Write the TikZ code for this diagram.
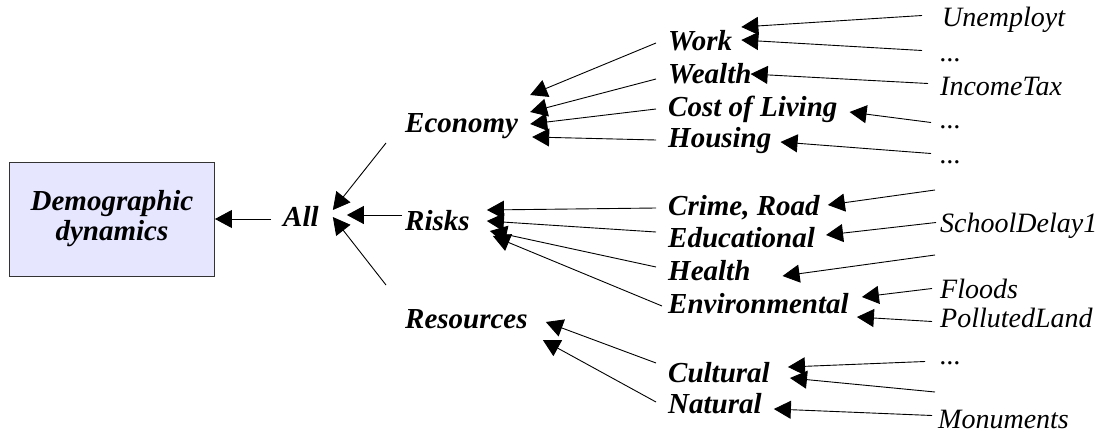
\documentclass[tikz,border=0pt]{standalone}
\usepackage{fontspec}
\setmainfont{Liberation Serif}
\usetikzlibrary{arrows.meta}
\definecolor{boxfill}{RGB}{230,230,255}

\begin{document}
\begin{tikzpicture}[x=1pt, y=-1pt,
	cat/.style={anchor=base west, inner xsep=12pt, inner ysep=0pt, text height=20pt, text depth=6pt,
		font=\fontsize{29}{33}\selectfont\bfseries\itshape},
	leaf/.style={anchor=base west, inner xsep=4pt, inner ysep=0pt, text height=19pt, text depth=6pt,
		font=\fontsize{28}{32}\selectfont\itshape},
	arr/.style={-{Triangle[length=17pt,width=18pt]}, line width=0.9pt}]
			\useasboundingbox (0,0) rectangle (1116,439);
			% root box
			\node[draw=black!80, fill=boxfill, line width=0.9pt, minimum width=205pt, minimum height=114pt,
				align=center, font=\fontsize{29}{30}\selectfont\bfseries\itshape] (box) at (112,219) {Demographic\\dynamics};
			% first levels
			\node[cat] (all) at (271,226) {All};
			\node[cat] (eco) at (393,132) {Economy};
			\node[cat] (risks) at (393,230) {Risks};
			\node[cat] (res) at (393,328) {Resources};
			\node[cat] (work) at (656,50) {Work};
			\node[cat] (wealth) at (656,83) {Wealth};
			\node[cat] (cost) at (656,116) {Cost of Living};
			\node[cat] (housing) at (656,147) {Housing};
			\node[cat] (crime) at (656,215) {Crime, Road};
			\node[cat] (edu) at (656,247) {Educational};
			\node[cat] (health) at (656,280) {Health};
			\node[cat] (env) at (656,313) {Environmental};
			\node[cat] (cult) at (656,382) {Cultural};
			\node[cat] (nat) at (656,413) {Natural};
			% indicators
			\node[leaf] (unemp) at (938,27) {Unemployt};
			\node[leaf] (dotsa) at (936,61) {...};
			\node[leaf] (income) at (936,95) {IncomeTax};
			\node[leaf] (dotsb) at (936,128) {...};
			\node[leaf] (dotsc) at (936,163) {...};
			\node[leaf] (school) at (936,232) {SchoolDelay1};
			\node[leaf] (floods) at (936,298) {Floods};
			\node[leaf] (polluted) at (936,327) {PollutedLand};
			\node[leaf] (dotsd) at (936,364) {...};
			\node[leaf] (monu) at (934,428) {Monuments};
			\coordinate (crimeend) at (935,190);
			\coordinate (healthend) at (935,255);
			\coordinate (cultend) at (935,392);
			% root
			\draw[arr] (all.west) -- (box.east);
			\draw[arr] ([xshift=-7pt,yshift=-18pt]eco.west) -- ([xshift=2pt,yshift=9pt]all.east);
			\draw[arr] ([xshift=9pt,yshift=8pt]risks.west) -- ([xshift=16pt,yshift=4pt]all.east);
			\draw[arr] ([xshift=-7pt,yshift=36pt]res.west) -- ([xshift=2pt,yshift=2pt]all.east);
			% economy
			\draw[arr] (work.west) -- ([yshift=30pt]eco.east);
			\draw[arr] ([yshift=-3pt]wealth.west) -- ([yshift=13pt]eco.east);
			\draw[arr] (cost.west) -- ([yshift=1pt]eco.east);
			\draw[arr] (housing.west) -- ([xshift=2pt,yshift=-12pt]eco.east);
			% risks
			\draw[arr] (crime.west) -- ([xshift=5pt,yshift=13pt]risks.east);
			\draw[arr] ([yshift=8pt]edu.west) -- ([xshift=5pt,yshift=2pt]risks.east);
			\draw[arr] ([yshift=6pt]health.west) -- ([xshift=8pt,yshift=-8pt]risks.east);
			\draw[arr] ([xshift=6pt]env.west) -- ([xshift=11pt,yshift=-13pt]risks.east);
			% resources
			\draw[arr] ([yshift=12pt]cult.west) -- ([xshift=6pt,yshift=-1pt]res.east);
			\draw[arr] ([yshift=4pt]nat.west) -- ([xshift=3pt,yshift=-19pt]res.east);
			% indicators
			\draw[arr] ([xshift=-16pt,yshift=5pt]unemp.west) -- ([xshift=-3pt,yshift=16pt]work.east);
			\draw[arr] ([xshift=-14pt,yshift=4pt]dotsa.west) -- ([xshift=-3pt,yshift=3pt]work.east);
			\draw[arr] ([xshift=-8pt,yshift=5pt]income.west) -- ([xshift=-13pt,yshift=2pt]wealth.east);
			\draw[arr] ([xshift=-5pt,yshift=-1pt]dotsb.west) -- ([yshift=-3pt]cost.east);
			\draw[arr] ([xshift=-5pt,yshift=3pt]dotsc.west) -- ([xshift=-3pt,yshift=-2pt]housing.east);
			\draw[arr] (crimeend) -- ([xshift=-4pt,yshift=3pt]crime.east);
			\draw[arr] ([yshift=3pt]school.west) -- ([xshift=-1pt,yshift=5pt]edu.east);
			\draw[arr] (healthend) -- ([xshift=20pt,yshift=-3pt]health.east);
			\draw[arr] ([xshift=-4pt,yshift=3pt]floods.west) -- ([xshift=1pt,yshift=9pt]env.east);
			\draw[arr] ([xshift=-4pt,yshift=-1pt]polluted.west) -- ([xshift=-4pt,yshift=-11pt]env.east);
			\draw[arr] ([xshift=-11pt,yshift=-4pt]dotsd.west) -- ([xshift=6pt,yshift=8pt]cult.east);
			\draw[arr] (cultend) -- ([xshift=8pt,yshift=-3pt]cult.east);
			\draw[arr] ([xshift=-2pt,yshift=6pt]monu.west) -- ([yshift=-3pt]nat.east);
		\end{tikzpicture}
\end{document}
